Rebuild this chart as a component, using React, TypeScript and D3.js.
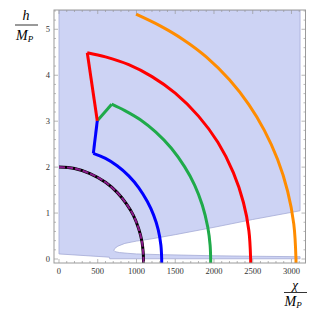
import React from "react";
import * as d3 from "d3";

type Pt = [number, number];

// tick labels
const xTicks = [0, 500, 1000, 1500, 2000, 2500, 3000];
const yTicks = [0, 1, 2, 3, 4, 5];

// shaded (allowed) region: chi, h
const regionPts: Pt[] = [
  [0, 5.42], [3111, 5.42], [3111, 1.05],
  // upper edge of the white wedge
  [2500, 0.86], [2000, 0.69], [1500, 0.53], [1200, 0.44], [1000, 0.39],
  [850, 0.34], [760, 0.28], [720, 0.23], [708, 0.19],
  // lower edge of the wedge
  [725, 0.16], [780, 0.14], [880, 0.125], [1000, 0.11], [1300, 0.095],
  [1600, 0.085], [2000, 0.07], [2500, 0.06], [3111, 0.05],
  // bottom strip
  [3111, 0.005], [655, 0.005], [650, 0.04], [0, 0.11],
];

// curves: straight legs and arcs
const blackArc: Pt[] = [
  [0, 2.0], [200, 1.97], [400, 1.86], [600, 1.67], [750, 1.45], [870, 1.2],
  [960, 0.95], [1030, 0.65], [1070, 0.38], [1088, 0.1], [1090, 0], [1090, -0.1],
];
const blueLeg: Pt[] = [[494, 3.01], [443, 2.3]];
const blueArc: Pt[] = [
  [443, 2.3], [600, 2.19], [750, 2.03], [900, 1.81], [1030, 1.55], [1140, 1.25],
  [1220, 0.96], [1280, 0.64], [1315, 0.3], [1325, 0], [1325, -0.1],
];
const greenLeg: Pt[] = [[494, 3.01], [680, 3.37]];
const greenArc: Pt[] = [
  [680, 3.37], [850, 3.23], [1050, 3.03], [1250, 2.76], [1450, 2.41], [1620, 2.01],
  [1750, 1.61], [1850, 1.17], [1920, 0.69], [1950, 0.3], [1957, 0], [1957, -0.1],
];
const redLeg: Pt[] = [[494, 3.01], [365, 4.49]];
const redArc: Pt[] = [
  [365, 4.49], [600, 4.4], [900, 4.23], [1200, 3.97], [1500, 3.61], [1800, 3.11],
  [2050, 2.54], [2250, 1.88], [2380, 1.23], [2450, 0.62], [2473, 0], [2473, -0.1],
];
const orangeArc: Pt[] = [
  [994, 5.33], [1300, 5.08], [1600, 4.78], [1900, 4.4], [2200, 3.9], [2450, 3.36],
  [2650, 2.8], [2820, 2.17], [2950, 1.48], [3030, 0.76], [3058, 0], [3058, -0.1],
];

const W = 329;
const H = 310;
const L = 54, R = 305.5, T = 10, B = 263;

const App = () => {
  const x = d3.scaleLinear().domain([-64.5, 3181]).range([L, R]);
  const y = d3.scaleLinear().domain([-0.087, 5.42]).range([B, T]);

  const straight = d3.line<Pt>().x((d) => x(d[0])).y((d) => y(d[1]));
  const smooth = d3
    .line<Pt>()
    .x((d) => x(d[0]))
    .y((d) => y(d[1]))
    .curve(d3.curveCatmullRom.alpha(0.5));
  const region = d3
    .line<Pt>()
    .x((d) => x(d[0]))
    .y((d) => y(d[1]))
    .curve(d3.curveLinearClosed);

  const xMinor = d3.range(0, 3200, 100);
  const yMinor = d3.range(0, 5.5, 0.2);
  const frame = "#9a9a9a";
  const serif = "'Liberation Serif', 'DejaVu Serif', serif";
  const lw = 3;

  return (
    <svg width={W} height={H} style={{ position: "absolute", left: 0, top: 0 }}>
      <defs>
        <clipPath id="plot-clip">
          <rect x={L} y={T} width={R - L} height={B - T} />
        </clipPath>
      </defs>
      <rect x={0} y={0} width={W} height={H} fill="white" />

      <g clipPath="url(#plot-clip)">
        <path d={region(regionPts) ?? ""} fill="#cdd3f4" stroke="#a5abd5" strokeWidth={0.8} />

        <path d={smooth(orangeArc) ?? ""} fill="none" stroke="#ff8c00" strokeWidth={lw} />
        <path d={smooth(redArc) ?? ""} fill="none" stroke="#ff0000" strokeWidth={lw} />
        <path d={smooth(greenArc) ?? ""} fill="none" stroke="#1faa4a" strokeWidth={lw} />
        <path d={straight(greenLeg) ?? ""} fill="none" stroke="#1faa4a" strokeWidth={lw} />
        <path d={smooth(blueArc) ?? ""} fill="none" stroke="#0000ff" strokeWidth={lw} />
        <path d={straight(blueLeg) ?? ""} fill="none" stroke="#0000ff" strokeWidth={lw} />
        <path d={straight(redLeg) ?? ""} fill="none" stroke="#ff0000" strokeWidth={lw} />
        <path d={smooth(blackArc) ?? ""} fill="none" stroke="#000000" strokeWidth={lw} />
        <path
          d={smooth(blackArc) ?? ""}
          fill="none"
          stroke="#8a1a8a"
          strokeWidth={2}
          strokeDasharray="6 2"
        />
      </g>

      <rect x={L} y={T} width={R - L} height={B - T} fill="none" stroke={frame} strokeWidth={1} />

      {xMinor.map((v) => {
        const major = v % 500 === 0;
        const len = major ? 4 : 2;
        return (
          <g key={"xt" + v} stroke={frame} strokeWidth={0.7}>
            <line x1={x(v)} x2={x(v)} y1={B} y2={B - len} />
            <line x1={x(v)} x2={x(v)} y1={T} y2={T + len} />
          </g>
        );
      })}
      {yMinor.map((v, i) => {
        const major = i % 5 === 0;
        const len = major ? 4 : 2;
        return (
          <g key={"yt" + i} stroke={frame} strokeWidth={0.7}>
            <line x1={L} x2={L + len} y1={y(v)} y2={y(v)} />
            <line x1={R} x2={R - len} y1={y(v)} y2={y(v)} />
          </g>
        );
      })}

      {xTicks.map((v) => (
        <text
          key={"xl" + v}
          x={x(v)}
          y={274}
          textAnchor="middle"
          fontFamily={serif}
          fontSize={8.5}
          fill="#333"
        >
          {v}
        </text>
      ))}
      {yTicks.map((v) => (
        <text
          key={"yl" + v}
          x={50}
          y={y(v) + 3}
          textAnchor="end"
          fontFamily={serif}
          fontSize={8.5}
          fill="#333"
        >
          {v}
        </text>
      ))}

      {/* y axis label h / M_P */}
      <text x={26} y={20} textAnchor="middle" fontFamily={serif} fontStyle="italic" fontSize={14}>
        h
      </text>
      <line x1={15} x2={38} y1={25} y2={25} stroke="#000" strokeWidth={0.8} />
      <text x={16} y={39.5} fontFamily={serif} fontStyle="italic" fontSize={14}>
        M
        <tspan fontSize={9} dy={2}>P</tspan>
      </text>

      {/* x axis label chi / M_P */}
      <text x={295} y={289} textAnchor="middle" fontFamily={serif} fontStyle="italic" fontSize={13}>
        χ
      </text>
      <line x1={284} x2={307} y1={292.5} y2={292.5} stroke="#000" strokeWidth={0.8} />
      <text x={284.5} y={306} fontFamily={serif} fontStyle="italic" fontSize={14}>
        M
        <tspan fontSize={9} dy={2}>P</tspan>
      </text>
    </svg>
  );
};

export default App;
